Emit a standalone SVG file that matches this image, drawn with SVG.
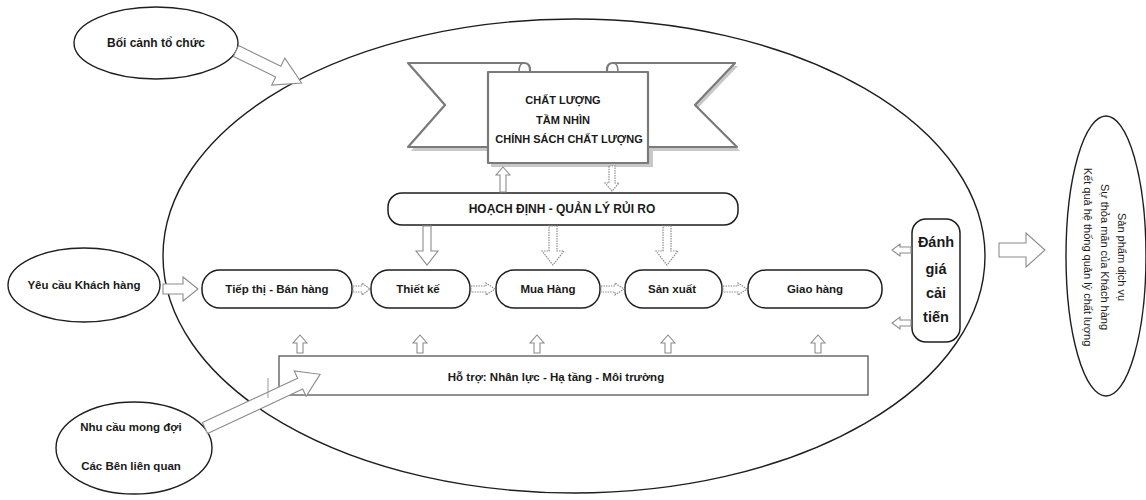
<svg xmlns="http://www.w3.org/2000/svg" width="1146" height="500" viewBox="0 0 1146 500">
  <style>
    .t { font-family: "Liberation Sans", Arial, sans-serif; fill: #1a1a1a; }
    .b { font-weight: bold; }
    .node { fill: #fff; stroke: #1e1e1e; stroke-width: 1.5; }
    .oval { fill: none; stroke: #1e1e1e; stroke-width: 1.4; }
    .arr { fill: #fff; stroke: #8c8c8c; stroke-width: 1.1; }
    .arrd { fill: #fff; stroke: #8c8c8c; stroke-width: 1.2; stroke-dasharray: 1.5 1; }
    .ban { fill: #fff; stroke: #7a7a7a; stroke-width: 2.2; stroke-linejoin: round; }
    .shadow { fill: #c8c8c8; stroke: none; }
  </style>

  <!-- big context ellipse -->
  <g id="context-ellipse">
    <ellipse class="oval" cx="574" cy="256" rx="411" ry="237"/>
  </g>

  <!-- external inputs -->
  <g id="boi-canh">
    <ellipse class="oval" cx="156" cy="43" rx="82" ry="36"/>
    <text class="t b" x="156" y="47" font-size="12" text-anchor="middle">Bối cảnh tổ chức</text>
  </g>
  <g id="yeu-cau">
    <ellipse class="oval" cx="84" cy="285" rx="76" ry="37"/>
    <text class="t b" x="84" y="289" font-size="11.5" text-anchor="middle">Yêu cầu Khách hàng</text>
  </g>
  <g id="nhu-cau">
    <ellipse class="oval" cx="134" cy="448" rx="78" ry="46"/>
    <text class="t b" x="131" y="431" font-size="11.5" text-anchor="middle">Nhu cầu mong đợi</text>
    <text class="t b" x="131" y="470" font-size="11.5" text-anchor="middle">Các Bên liên quan</text>
  </g>

  <!-- banner -->
  <g id="chat-luong">
    <path class="shadow" d="M411,66 L530,66 L530,151 L411,151 L448,108 Z"/>
    <path class="shadow" d="M738,66 L610,66 L610,151 L740,151 L698,108 Z"/>
    <rect class="shadow" x="491" y="75" width="162" height="92"/>
    <path class="ban" d="M408,63 L524,63 Q530,63 530,70 L530,147 L408,147 L445,105 Z"/>
    <path class="ban" d="M735,63 L613,63 Q607,63 607,70 L607,147 L737,147 L695,105 Z"/>
    <path class="ban" d="M488,72 L648,72 L648,163 L488,163 Z"/>
    <path d="M524,63 Q519,63 519,72" fill="none" stroke="#7a7a7a" stroke-width="1.5"/>
    <path d="M613,63 Q618,63 618,72" fill="none" stroke="#7a7a7a" stroke-width="1.5"/>
    <text class="t b" x="563" y="104" font-size="11" text-anchor="middle">CHẤT LƯỢNG</text>
    <text class="t b" x="563" y="124" font-size="11" text-anchor="middle">TẦM NHÌN</text>
    <text class="t b" x="569" y="143" font-size="11" text-anchor="middle">CHÍNH SÁCH CHẤT LƯỢNG</text>
  </g>

  <g id="hoach-dinh">
    <rect class="node" x="388" y="193" width="350" height="32" rx="14"/>
    <text class="t b" x="562" y="213" font-size="12" text-anchor="middle">HOẠCH ĐỊNH - QUẢN LÝ RỦI RO</text>
  </g>

  <g id="tiep-thi">
    <rect class="node" x="202" y="270" width="150" height="38" rx="18"/>
    <text class="t b" x="277" y="293" font-size="11.5" text-anchor="middle">Tiếp thị - Bán hàng</text>
  </g>
  <g id="thiet-ke">
    <rect class="node" x="371" y="270" width="99" height="38" rx="18"/>
    <text class="t b" x="418" y="293" font-size="11.5" text-anchor="middle">Thiết kế</text>
  </g>
  <g id="mua-hang">
    <rect class="node" x="496" y="270" width="104" height="38" rx="18"/>
    <text class="t b" x="548" y="293" font-size="11.5" text-anchor="middle">Mua Hàng</text>
  </g>
  <g id="san-xuat">
    <rect class="node" x="625" y="270" width="97" height="38" rx="18"/>
    <text class="t b" x="672" y="293" font-size="11.5" text-anchor="middle">Sản xuất</text>
  </g>
  <g id="giao-hang">
    <rect class="node" x="748" y="270" width="134" height="38" rx="18"/>
    <text class="t b" x="815" y="293" font-size="11.5" text-anchor="middle">Giao hàng</text>
  </g>

  <g id="danh-gia">
    <rect class="node" x="912" y="219" width="48" height="123" rx="14"/>
    <text class="t b" x="936" y="247" font-size="14.5" text-anchor="middle">Đánh</text>
    <text class="t b" x="936" y="274" font-size="14.5" text-anchor="middle">giá</text>
    <text class="t b" x="936" y="298" font-size="14.5" text-anchor="middle">cải</text>
    <text class="t b" x="936" y="322" font-size="14.5" text-anchor="middle">tiến</text>
  </g>

  <g id="ho-tro">
    <rect x="279" y="356" width="589" height="39" fill="#fff" stroke="#555" stroke-width="1.3"/>
    <text class="t b" x="556" y="381" font-size="11.5" text-anchor="middle">Hỗ trợ: Nhân lực - Hạ tầng - Môi trường</text>
  </g>

  <g id="ket-qua">
    <ellipse class="oval" cx="1106" cy="256" rx="40" ry="140"/>
    <text class="t" transform="translate(1118,257) rotate(90)" font-size="11" text-anchor="middle">Sản phẩm dịch vụ</text>
    <text class="t" transform="translate(1101,257) rotate(90)" font-size="11" text-anchor="middle">Sự thỏa mãn của Khách hàng</text>
    <text class="t" transform="translate(1084,257) rotate(90)" font-size="11" text-anchor="middle">Kết quả hệ thống quản lý chất lượng</text>
  </g>

  <!-- connectors -->
  <g id="connectors">
    <!-- Boi canh -> system -->
    <path class="arr" transform="translate(236,51) rotate(26)" d="M0,-6 L47,-6 L47,-15 L73,0 L47,15 L47,6 L0,6 Z"/>
    <!-- Nhu cau -> support -->
    <path class="arr" transform="translate(205,428) rotate(-25)" d="M0,-6 L105,-6 L105,-14 L127,0 L105,14 L105,6 L0,6 Z"/>
    <!-- Yeu cau -> Tiep thi -->
    <path class="arr" d="M163,284 L183,284 L183,277 L198,289 L183,301 L183,294 L163,294 Z"/>
    <!-- process chain -->
    <path class="arrd" d="M353,286 L362,286 L362,283 L370,289 L362,295 L362,292 L353,292 Z"/>
    <path class="arrd" d="M471,286 L486,286 L486,283 L495,289 L486,295 L486,292 L471,292 Z"/>
    <path class="arrd" d="M601,286 L615,286 L615,283 L624,289 L615,295 L615,292 L601,292 Z"/>
    <path class="arrd" d="M723,286 L738,286 L738,283 L747,289 L738,295 L738,292 L723,292 Z"/>
    <!-- Hoach dinh down arrows -->
    <path class="arr" d="M423,226 L431,226 L431,251 L438,251 L427,265 L416,251 L423,251 Z"/>
    <path class="arrd" d="M549,226 L557,226 L557,251 L564,251 L553,265 L542,251 L549,251 Z"/>
    <path class="arrd" d="M663,226 L671,226 L671,251 L678,251 L667,265 L656,251 L663,251 Z"/>
    <!-- Hoach dinh <-> banner -->
    <path class="arr" d="M500,192 L506,192 L506,175 L510,175 L503,167 L496,175 L500,175 Z"/>
    <path class="arrd" d="M609,166 L615,166 L615,183 L619,183 L612,191 L605,183 L609,183 Z"/>
    <!-- support up arrows -->
    <path class="arr" d="M297,353 L303,353 L303,343 L307,343 L300,335 L293,343 L297,343 Z"/>
    <path class="arr" d="M417,353 L423,353 L423,343 L427,343 L420,335 L413,343 L417,343 Z"/>
    <path class="arr" d="M534,353 L540,353 L540,343 L544,343 L537,335 L530,343 L534,343 Z"/>
    <path class="arr" d="M665,353 L671,353 L671,343 L675,343 L668,335 L661,343 L665,343 Z"/>
    <path class="arr" d="M815,353 L821,353 L821,343 L825,343 L818,335 L811,343 L815,343 Z"/>
    <!-- Danh gia feedback -->
    <path class="arr" d="M911,247 L900,247 L900,244 L892,250 L900,256 L900,253 L911,253 Z"/>
    <path class="arr" d="M911,320 L900,320 L900,317 L892,323 L900,329 L900,326 L911,326 Z"/>
    <!-- to outputs -->
    <path class="arr" d="M999,243 L1026,243 L1026,233 L1045,250 L1026,267 L1026,257 L999,257 Z"/>
    <!-- stray mark -->
    <line x1="268" y1="378" x2="268" y2="398" stroke="#999" stroke-width="1"/>
  </g>
</svg>
